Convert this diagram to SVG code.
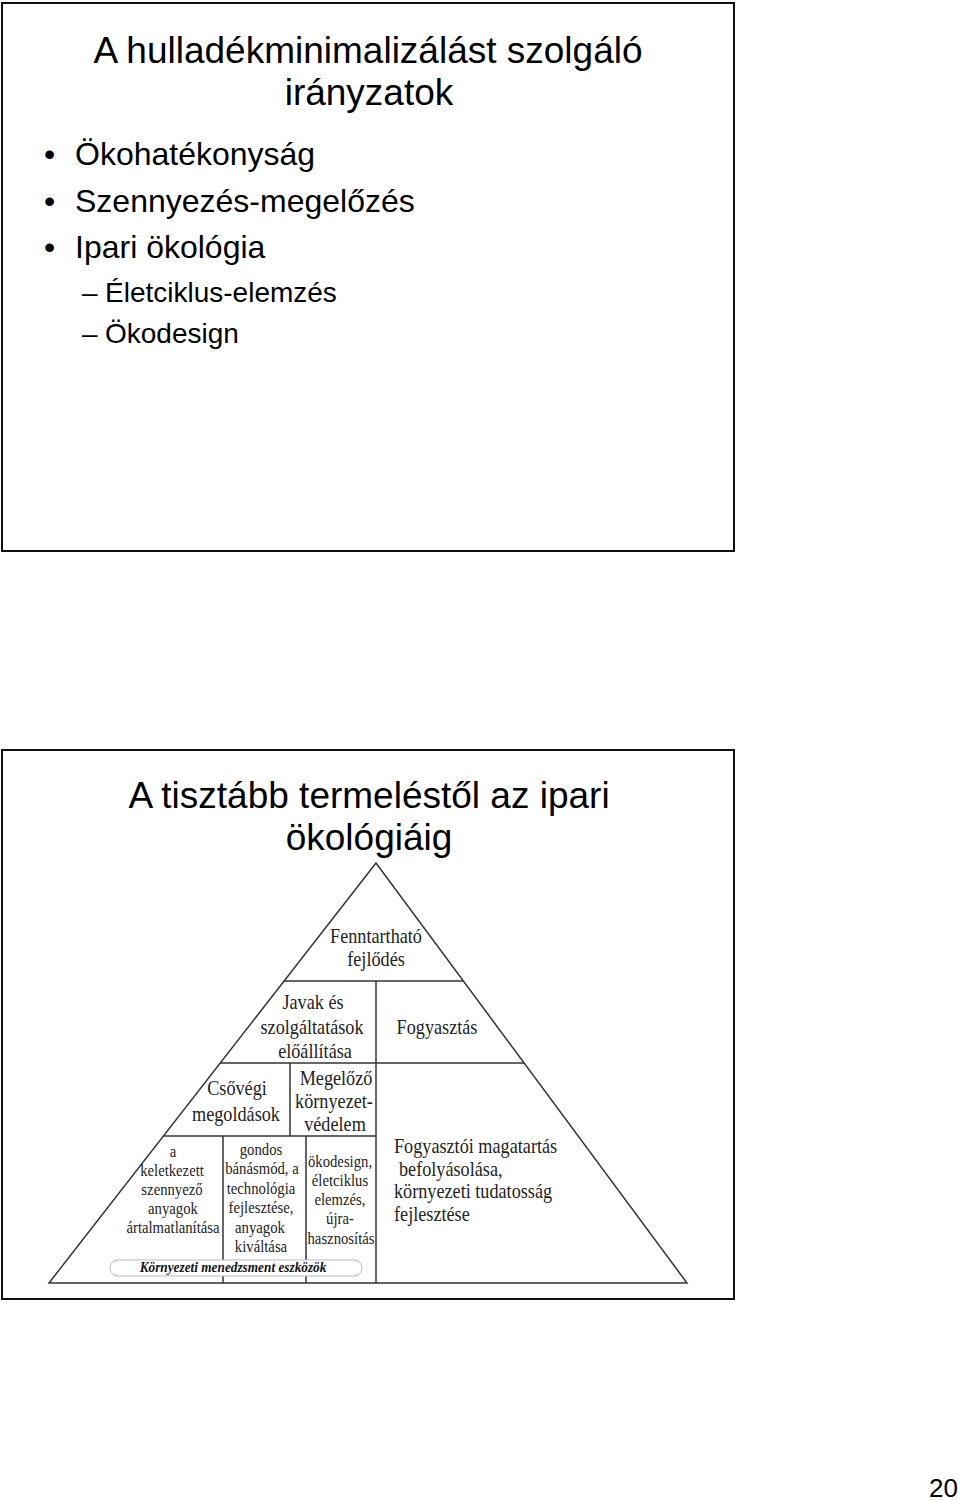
<svg xmlns="http://www.w3.org/2000/svg" width="960" height="1501" viewBox="0 0 960 1501">
<style>
.frame{fill:none;stroke:#111;stroke-width:2}
.title{font-family:"Liberation Sans",Arial,sans-serif;font-size:37px;fill:#000;text-anchor:middle}
.b1{font-family:"Liberation Sans",Arial,sans-serif;font-size:32px;fill:#000}
.b2{font-family:"Liberation Sans",Arial,sans-serif;font-size:28px;fill:#000}
.pg{font-family:"Liberation Sans",Arial,sans-serif;font-size:26px;fill:#000;text-anchor:end}
.ln{stroke:#333;stroke-width:1.5;fill:none}
.p20{font-family:"Liberation Serif","Times New Roman",serif;font-size:20px;fill:#222;text-anchor:middle}
.p20l{font-family:"Liberation Serif","Times New Roman",serif;font-size:20px;fill:#222}
.p16{font-family:"Liberation Serif","Times New Roman",serif;font-size:16px;fill:#222;text-anchor:middle}
.pbi{font-family:"Liberation Serif","Times New Roman",serif;font-size:14px;font-weight:bold;font-style:italic;fill:#111;text-anchor:middle}
</style>

<g id="slide1">
<rect class="frame" x="2" y="3" width="732" height="548"/>
<text class="title" x="368" y="63">A hulladékminimalizálást szolgáló</text>
<text class="title" x="369" y="105">irányzatok</text>
<text class="b1" x="44" y="165">•</text>
<text class="b1" x="75" y="165">Ökohatékonyság</text>
<text class="b1" x="44" y="212">•</text>
<text class="b1" x="75" y="212">Szennyezés-megelőzés</text>
<text class="b1" x="44" y="258">•</text>
<text class="b1" x="75" y="258">Ipari ökológia</text>
<text class="b2" x="82" y="302">–</text>
<text class="b2" x="105" y="302">Életciklus-elemzés</text>
<text class="b2" x="82" y="343">–</text>
<text class="b2" x="105" y="343">Ökodesign</text>
</g>

<g id="slide2">
<rect class="frame" x="2" y="750" width="732" height="549"/>
<text class="title" x="369" y="808">A tisztább termeléstől az ipari</text>
<text class="title" x="369" y="850">ökológiáig</text>
</g>

<g id="connectors">
<polygon class="ln" points="376,863 49,1283 687,1283"/>
<line class="ln" x1="284" y1="981" x2="463" y2="981"/>
<line class="ln" x1="220" y1="1063" x2="524" y2="1063"/>
<line class="ln" x1="163" y1="1136" x2="376" y2="1136"/>
<line class="ln" x1="376" y1="981" x2="376" y2="1283"/>
<line class="ln" x1="290" y1="1063" x2="290" y2="1136"/>
<line class="ln" x1="223" y1="1136" x2="223" y2="1283"/>
<line class="ln" x1="306" y1="1136" x2="306" y2="1283"/>
</g>

<g id="n-fenntarthato">
<text class="p20" transform="translate(376,943) scale(0.91,1)">Fenntartható</text>
<text class="p20" transform="translate(376,966) scale(0.91,1)">fejlődés</text>
</g>

<g id="n-javak">
<text class="p20" transform="translate(313,1009) scale(0.91,1)">Javak és</text>
<text class="p20" transform="translate(312,1034) scale(0.91,1)">szolgáltatások</text>
<text class="p20" transform="translate(315,1058) scale(0.91,1)">előállítása</text>
</g>

<g id="n-fogyasztas">
<text class="p20" transform="translate(437,1034) scale(0.91,1)">Fogyasztás</text>
</g>

<g id="n-csovegi">
<text class="p20" transform="translate(237,1095) scale(0.91,1)">Csővégi</text>
<text class="p20" transform="translate(236,1121) scale(0.91,1)">megoldások</text>
</g>

<g id="n-megelozo">
<text class="p20" transform="translate(336,1085) scale(0.91,1)">Megelőző</text>
<text class="p20" transform="translate(334,1108) scale(0.91,1)">környezet-</text>
<text class="p20" transform="translate(335,1131) scale(0.91,1)">védelem</text>
</g>

<g id="n-fogyasztoi">
<text class="p20l" transform="translate(394,1153) scale(0.91,1)">Fogyasztói magatartás</text>
<text class="p20l" transform="translate(399,1176) scale(0.91,1)">befolyásolása,</text>
<text class="p20l" transform="translate(394,1198) scale(0.91,1)">környezeti tudatosság</text>
<text class="p20l" transform="translate(394,1221) scale(0.91,1)">fejlesztése</text>
</g>

<g id="n-col1">
<text class="p16" transform="translate(173,1157) scale(0.92,1)">a</text>
<text class="p16" transform="translate(172,1176) scale(0.92,1)">keletkezett</text>
<text class="p16" transform="translate(172,1195) scale(0.92,1)">szennyező</text>
<text class="p16" transform="translate(173,1214) scale(0.92,1)">anyagok</text>
<text class="p16" transform="translate(173,1233) scale(0.92,1)">ártalmatlanítása</text>
</g>

<g id="n-col2">
<text class="p16" transform="translate(261,1155) scale(0.92,1)">gondos</text>
<text class="p16" transform="translate(262,1174) scale(0.92,1)">bánásmód, a</text>
<text class="p16" transform="translate(261,1194) scale(0.92,1)">technológia</text>
<text class="p16" transform="translate(261,1213) scale(0.92,1)">fejlesztése,</text>
<text class="p16" transform="translate(260,1233) scale(0.92,1)">anyagok</text>
<text class="p16" transform="translate(261,1252) scale(0.92,1)">kiváltása</text>
</g>

<g id="n-col3">
<text class="p16" transform="translate(340,1167) scale(0.92,1)">ökodesign,</text>
<text class="p16" transform="translate(340,1186) scale(0.92,1)">életciklus</text>
<text class="p16" transform="translate(340,1205) scale(0.92,1)">elemzés,</text>
<text class="p16" transform="translate(340,1224) scale(0.92,1)">újra-</text>
<text class="p16" transform="translate(341,1244) scale(0.92,1)">hasznosítás</text>
</g>

<g id="n-eszkozok">
<rect x="110" y="1260" width="252" height="16" rx="8" ry="8" fill="#fff" stroke="#bbb" stroke-width="1"/>
<text class="pbi" transform="translate(233,1272) scale(0.95,1)">Környezeti menedzsment eszközök</text>
</g>

<g id="page">
<text class="pg" x="958" y="1497">20</text>
</g>
</svg>
